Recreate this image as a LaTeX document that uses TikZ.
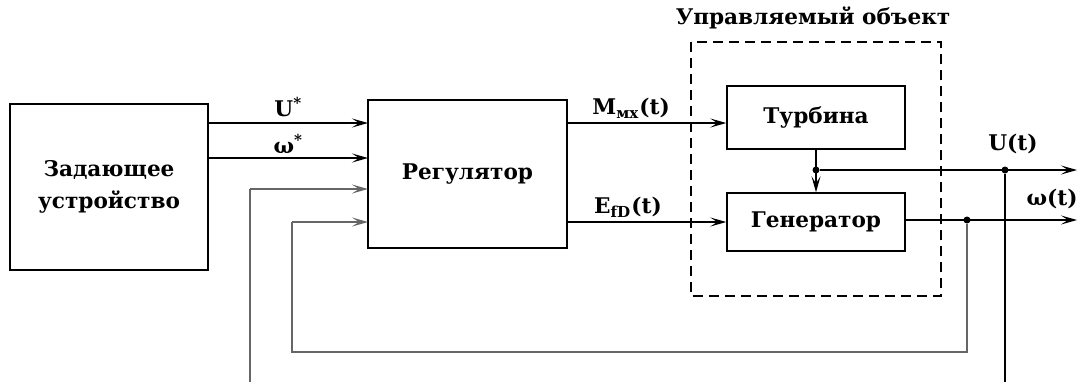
\documentclass[tikz,border=0pt]{standalone}
\usepackage{fontspec}
\setmainfont{DejaVu Serif}
\usepackage{tikz}
\usetikzlibrary{arrows.meta, positioning, shapes}

\begin{document}
\begin{tikzpicture}[x=0.5pt, y=-0.5pt,
    box/.style={rectangle, draw, line width=0.7pt, text centered, inner sep=0pt,
                font=\fontsize{10.8}{13}\selectfont\bfseries},
    arrow/.style={-{Stealth[length=8pt, width=4.5pt, inset=3.5pt]}, line width=0.7pt},
    fb/.style={draw=black!60, line width=1pt},
    note/.style={font=\fontsize{10.8}{13}\selectfont\bfseries, inner sep=1pt},
    dot/.style={circle, fill, inner sep=0pt, minimum size=3.5pt}
]
\useasboundingbox (0,0) rectangle (1081,382);

% blocks
\node[box, minimum width=99pt, minimum height=83pt, align=center] (zad) at (109,187)
    {Задающее\\[3pt]устройство};
\node[box, minimum width=99.5pt, minimum height=74pt] (reg) at (467.5,174) {Регулятор};
\node[box, minimum width=89pt, minimum height=31.5pt] (turb) at (816,117.5) {Турбина};
\node[box, minimum width=89pt, minimum height=29pt] (gen) at (816,222) {Генератор};
\draw[dashed, line width=0.7pt, dash pattern=on 5pt off 3pt] (691,42) rectangle (941,296);
\node[note] (obj) at (813,18) {Управляемый объект};

% inputs of the regulator
\coordinate (in1) at (368,123);
\coordinate (in2) at (368,158);
\coordinate (in3) at (368,189);
\coordinate (in4) at (368,222);
\draw[arrow] (zad.east |- in1) -- (in1) node[pos=0.5, above=2pt, note] {U\textsuperscript{*}};
\draw[arrow] (zad.east |- in2) -- (in2) node[pos=0.5, above=1pt, note] {ω\textsuperscript{*}};

% regulator to object
\draw[arrow] (reg.east |- 0,123) -- (turb.west |- 0,123)
    node[pos=0.4, above=1pt, note] {M\textsubscript{мх}(t)};
\draw[arrow] (reg.east |- gen.west) -- (gen.west)
    node[pos=0.38, above=1pt, note] {E\textsubscript{fD}(t)};

% outputs
\coordinate (uout) at (1077,170);
\coordinate (wout) at (1077,220);
\node[dot] (tdot) at (turb.south |- uout) {};
\node[dot] (udot) at (1005,170) {};
\node[dot] (wdot) at (967,220) {};
\draw[arrow] (turb.south) -- (gen.north);
\draw[arrow] (tdot) -- (uout);
\draw[arrow] (gen.east |- wout) -- (wout);
\node[note] (ulab) at (1013,144) {U(t)};
\node[note] (wlab) at (1052,199) {ω(t)};

% feedback
\coordinate (ubot) at (1005,382);
\coordinate (ubot2) at (250,382);
\coordinate (wbot) at (967,352);
\draw[line width=0.8pt] (udot) -- (ubot);
\draw[fb] (wdot) -- (wbot) -- (292,352) -- (292,222);
\draw[arrow, draw=black!60, fill=black!60, line width=1pt] (292,222) -- (in4);
\draw[fb] (ubot2) -- (250,189);
\draw[arrow, draw=black!60, fill=black!60, line width=1pt] (250,189) -- (in3);
\end{tikzpicture}
\end{document}
